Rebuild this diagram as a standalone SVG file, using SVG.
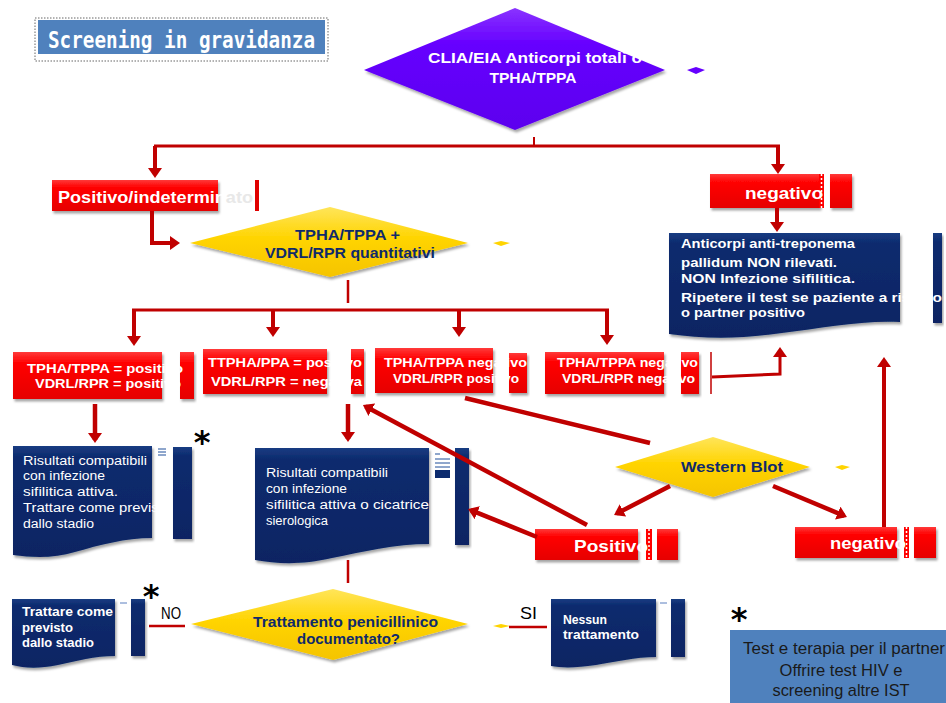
<svg xmlns="http://www.w3.org/2000/svg" width="946" height="703" viewBox="0 0 946 703">
<defs>
<linearGradient id="redG" x1="0" y1="0" x2="0" y2="1"><stop offset="0" stop-color="#FF3A3A"/><stop offset="0.25" stop-color="#FF0000"/><stop offset="1" stop-color="#E60000"/></linearGradient>
<linearGradient id="navyG" x1="0" y1="0" x2="0" y2="1"><stop offset="0" stop-color="#1A3C82"/><stop offset="0.1" stop-color="#0C2B6E"/><stop offset="1" stop-color="#082463"/></linearGradient>
<linearGradient id="yelG" x1="0" y1="0" x2="0" y2="1"><stop offset="0" stop-color="#FFE55A"/><stop offset="0.45" stop-color="#FFD400"/><stop offset="1" stop-color="#F5C400"/></linearGradient>
<linearGradient id="purG" x1="0" y1="0" x2="0" y2="1"><stop offset="0" stop-color="#8A33FF"/><stop offset="0.3" stop-color="#6600FF"/><stop offset="1" stop-color="#5C00EE"/></linearGradient>
<filter id="sh" x="-10%" y="-10%" width="125%" height="135%"><feDropShadow dx="1.5" dy="2.5" stdDeviation="1.2" flood-color="#000" flood-opacity="0.35"/></filter>
<marker id="ah" viewBox="0 0 10 14" refX="7" refY="7" markerWidth="10" markerHeight="14" markerUnits="userSpaceOnUse" orient="auto"><path d="M0,0 L10,7 L0,14 Z" fill="#C00000"/></marker>
</defs>
<style>
.red{fill:url(#redG);filter:url(#sh)}
.navy{fill:url(#navyG);filter:url(#sh)}
.yel{fill:url(#yelG);filter:url(#sh)}
.lbl{font-family:"Liberation Sans",Arial,sans-serif;font-weight:bold;fill:#fff}
.bx{font-family:"Liberation Sans",Arial,sans-serif;font-weight:bold;font-size:13px;fill:#fff}
.dq{font-family:"Liberation Sans",Arial,sans-serif;font-weight:bold;font-size:15px;fill:#0F2A6B}
.doc{font-family:"Liberation Sans",Arial,sans-serif;font-size:12.5px;fill:#fff}
.docb{font-family:"Liberation Sans",Arial,sans-serif;font-weight:bold;font-size:12.5px;fill:#fff}
.star{font-family:"DejaVu Sans",sans-serif;font-weight:bold;font-size:32px;fill:#000}
.yn{font-family:"Liberation Sans",Arial,sans-serif;font-size:17px;fill:#000}
.note{font-family:"Liberation Sans",Arial,sans-serif;font-size:17px;fill:#1A1A1A}
.dash{stroke:#fff;stroke-width:1.5;stroke-dasharray:2,2}
</style>
<rect width="946" height="703" fill="#fff"/>

<g id="title">
<rect x="35" y="18" width="293" height="43" fill="none" stroke="#666" stroke-width="1" stroke-dasharray="1.5,1.5"/>
<rect x="38" y="20" width="287" height="34" fill="#4F81BD"/>
<text x="48" y="48" font-family="DejaVu Sans Mono,monospace" font-weight="bold" font-size="23" fill="#fff" textLength="267" lengthAdjust="spacingAndGlyphs">Screening in gravidanza</text>
</g>

<g id="clia">
<polygon points="364,70 515,8 665,70 515,130" fill="url(#purG)" filter="url(#sh)"/>
<polygon points="687,70 696,67 705,70 696,74" fill="#6600FF"/>
<text class="lbl" x="428" y="63" font-size="14" textLength="214" lengthAdjust="spacingAndGlyphs">CLIA/EIA Anticorpi totali o</text>
<text class="lbl" x="533" y="83" font-size="14" text-anchor="middle" textLength="87" lengthAdjust="spacingAndGlyphs">TPHA/TPPA</text>
</g>

<g id="positivo-indeterminato">
<rect class="red" x="52" y="180" width="166" height="31"/>
<rect x="255" y="180" width="4" height="31" fill="#E00000"/>
<text class="lbl" x="58" y="203" font-size="17" textLength="195" lengthAdjust="spacingAndGlyphs">Positivo/indetermin<tspan fill="#E8E8E8">ato</tspan></text>
</g>

<g id="negativo-1">
<rect class="red" x="710" y="174" width="110" height="34"/>
<rect x="819" y="174" width="5" height="34" fill="#FF0000"/>
<line class="dash" x1="821.5" y1="174" x2="821.5" y2="208"/>
<rect class="red" x="830" y="174" width="22" height="34"/>
<text class="lbl" x="745" y="199" font-size="17" textLength="78" lengthAdjust="spacingAndGlyphs">negativo</text>
</g>

<g id="tpha-vdrl-quantitativi">
<polygon class="yel" points="190,243 330,207 468,243 330,277"/>
<polygon points="493,243 501,241 510,243 501,246" fill="#FFD400"/>
<text class="dq" x="295" y="240" textLength="105" lengthAdjust="spacingAndGlyphs">TPHA/TPPA +</text>
<text class="dq" x="265" y="258" textLength="170" lengthAdjust="spacingAndGlyphs">VDRL/RPR quantitativi</text>
</g>

<g id="negativo-risultato">
<path class="navy" d="M669,233 H900 V322 C862,320 822,328 782,333 C740,339 705,339 669,334 Z"/>
<rect class="navy" x="933" y="233" width="9" height="90"/>
<text class="docb" x="681" y="248" textLength="174" lengthAdjust="spacingAndGlyphs">Anticorpi anti-treponema</text>
<text class="docb" x="681" y="267" textLength="156" lengthAdjust="spacingAndGlyphs">pallidum NON rilevati.</text>
<text class="docb" x="681" y="283" textLength="174" lengthAdjust="spacingAndGlyphs">NON Infezione sifilitica.</text>
<text class="docb" x="681" y="302" textLength="261" lengthAdjust="spacingAndGlyphs">Ripetere il test se paziente a rischio</text>
<text class="docb" x="681" y="317" textLength="124" lengthAdjust="spacingAndGlyphs">o partner positivo</text>
</g>

<g id="box-pos-pos">
<rect class="red" x="13" y="352" width="149" height="47"/>
<rect class="red" x="180" y="352" width="14" height="47"/>
<text class="bx" x="27" y="373" textLength="156" lengthAdjust="spacingAndGlyphs">TPHA/TPPA = positivo</text>
<text class="bx" x="35" y="388" textLength="146" lengthAdjust="spacingAndGlyphs">VDRL/RPR = positivo</text>
</g>

<g id="box-pos-neg">
<rect class="red" x="203" y="349" width="124" height="45"/>
<rect class="red" x="351" y="349" width="13" height="45"/>
<text class="bx" x="208" y="367" textLength="154" lengthAdjust="spacingAndGlyphs">TTPHA/PPA = positivo</text>
<text class="bx" x="211" y="386" textLength="151" lengthAdjust="spacingAndGlyphs">VDRL/RPR = negativa</text>
</g>

<g id="box-neg-pos">
<rect class="red" x="375" y="348" width="118" height="45"/>
<rect class="red" x="509" y="353" width="18" height="40"/>
<text class="bx" x="384" y="367" textLength="143" lengthAdjust="spacingAndGlyphs">TPHA/TPPA negativo</text>
<text class="bx" x="393" y="383" textLength="126" lengthAdjust="spacingAndGlyphs">VDRL/RPR positivo</text>
</g>

<g id="box-neg-neg">
<rect class="red" x="545" y="352" width="119" height="42"/>
<rect class="red" x="681" y="352" width="18" height="42"/>
<text class="bx" x="557" y="367" textLength="141" lengthAdjust="spacingAndGlyphs">TPHA/TPPA negativo</text>
<text class="bx" x="562" y="383" textLength="133" lengthAdjust="spacingAndGlyphs">VDRL/RPR negativo</text>
</g>

<g id="doc-sifilide-attiva">
<path class="navy" d="M13,446 H152 V538 C125,538 100,545 75,552 C55,558 35,558 13,555 Z"/>
<rect class="navy" x="173" y="447" width="19" height="92"/>
<path d="M158,449 H166 M158,452 H166 M158,455 H166" stroke="#1F4E9A" stroke-width="1"/>
<text class="doc" x="23" y="465" textLength="124" lengthAdjust="spacingAndGlyphs">Risultati compatibili</text>
<text class="doc" x="23" y="480" textLength="82" lengthAdjust="spacingAndGlyphs">con infezione</text>
<text class="doc" x="23" y="496" textLength="95" lengthAdjust="spacingAndGlyphs">sifilitica attiva.</text>
<text class="doc" x="23" y="512" textLength="148" lengthAdjust="spacingAndGlyphs">Trattare come previsto</text>
<text class="doc" x="23" y="528" textLength="71" lengthAdjust="spacingAndGlyphs">dallo stadio</text>
</g>

<g id="doc-attiva-cicatrice">
<path class="navy" d="M255,448 H429 V544 C395,544 362,552 332,558 C302,565 278,564 255,560 Z"/>
<rect class="navy" x="455" y="448" width="14" height="97"/>
<path d="M435,454 H440 M435,459 H450 M435,463 H450 M435,467 H450" stroke="#1F4E9A" stroke-width="1"/>
<rect x="435" y="470" width="15" height="8" fill="#0C2B6E"/>
<text class="doc" x="266" y="477" textLength="122" lengthAdjust="spacingAndGlyphs">Risultati compatibili</text>
<text class="doc" x="266" y="493" textLength="81" lengthAdjust="spacingAndGlyphs">con infezione</text>
<text class="doc" x="266" y="509" textLength="163" lengthAdjust="spacingAndGlyphs">sifilitica attiva o cicatrice</text>
<text class="doc" x="266" y="525" textLength="62" lengthAdjust="spacingAndGlyphs">sierologica</text>
</g>

<g id="western-blot">
<polygon class="yel" points="615,467 713,437 810,467 713,497"/>
<polygon points="835,467 842,465 850,467 842,470" fill="#FFD400"/>
<text class="dq" x="681" y="472" textLength="102" lengthAdjust="spacingAndGlyphs">Western Blot</text>
</g>

<g id="wb-positivo">
<rect class="red" x="535" y="529" width="103" height="31"/>
<rect x="646" y="529" width="6" height="31" fill="#FF0000"/>
<line class="dash" x1="649" y1="529" x2="649" y2="560"/>
<rect class="red" x="657" y="529" width="21" height="31"/>
<text class="lbl" x="574" y="552" font-size="17" textLength="74" lengthAdjust="spacingAndGlyphs">Positivo</text>
</g>

<g id="wb-negativo">
<rect class="red" x="795" y="527" width="102" height="31"/>
<rect x="904" y="527" width="5" height="31" fill="#FF0000"/>
<line class="dash" x1="906.5" y1="527" x2="906.5" y2="558"/>
<rect class="red" x="914" y="527" width="22" height="31"/>
<text class="lbl" x="830" y="549" font-size="17" textLength="76" lengthAdjust="spacingAndGlyphs">negativo</text>
</g>

<g id="doc-trattare">
<path class="navy" d="M12,599 H115 V656 C95,656 76,661 58,665 C38,669 24,668 12,665 Z"/>
<rect class="navy" x="131" y="599" width="14" height="57"/>
<line x1="120" y1="603" x2="127" y2="603" stroke="#5A7FBF" stroke-width="1"/>
<text class="docb" x="22" y="616" textLength="91" lengthAdjust="spacingAndGlyphs">Trattare come</text>
<text class="docb" x="22" y="632" textLength="51" lengthAdjust="spacingAndGlyphs">previsto</text>
<text class="docb" x="22" y="647" textLength="72" lengthAdjust="spacingAndGlyphs">dallo stadio</text>
</g>

<g id="trattamento-documentato">
<polygon class="yel" points="191,624 333,589 468,624 333,660"/>
<text class="dq" x="253" y="627" textLength="185" lengthAdjust="spacingAndGlyphs">Trattamento penicillinico</text>
<text class="dq" x="297" y="644" textLength="103" lengthAdjust="spacingAndGlyphs">documentato?</text>
</g>

<g id="doc-nessun">
<path class="navy" d="M551,599 H656 V657 C636,657 614,662 596,665 C576,668 562,668 551,666 Z"/>
<rect class="navy" x="671" y="599" width="14" height="58"/>
<line x1="660" y1="603" x2="667" y2="603" stroke="#5A7FBF" stroke-width="1"/>
<text class="docb" x="563" y="624" textLength="44" lengthAdjust="spacingAndGlyphs">Nessun</text>
<text class="docb" x="563" y="639" textLength="76" lengthAdjust="spacingAndGlyphs">trattamento</text>
</g>

<g id="nota-partner">
<rect x="730" y="630" width="216" height="73" fill="#4F81BD"/>
<text class="note" x="844" y="654" text-anchor="middle" textLength="202" lengthAdjust="spacingAndGlyphs">Test e terapia per il partner</text>
<text class="note" x="841" y="676" text-anchor="middle" textLength="123" lengthAdjust="spacingAndGlyphs">Offrire test HIV e</text>
<text class="note" x="841" y="696" text-anchor="middle" textLength="137" lengthAdjust="spacingAndGlyphs">screening altre IST</text>
</g>

<g id="labels">
<text class="star" x="202" y="453" text-anchor="middle">*</text>
<text class="star" x="151" y="607" text-anchor="middle">*</text>
<text class="star" x="739" y="630" text-anchor="middle">*</text>
<text class="yn" x="161" y="619" textLength="20" lengthAdjust="spacingAndGlyphs">NO</text>
<text class="yn" x="520" y="619" textLength="17" lengthAdjust="spacingAndGlyphs">SI</text>
<polygon points="493,626 501,624 510,626 501,628" fill="#FFD400"/>
</g>

<g id="connectors" fill="none" stroke="#C00000">
<line x1="534" y1="137" x2="534" y2="146" stroke-width="2"/>
<line x1="154" y1="146" x2="780" y2="146" stroke-width="3"/>
<line x1="155" y1="146" x2="155" y2="175" stroke-width="4" marker-end="url(#ah)"/>
<line x1="778" y1="146" x2="778" y2="171" stroke-width="4" marker-end="url(#ah)"/>
<line x1="777" y1="208" x2="777" y2="229" stroke-width="4" marker-end="url(#ah)"/>
<polyline points="152,211 152,243 177,243" stroke-width="4" marker-end="url(#ah)"/>
<line x1="348" y1="280" x2="348" y2="303" stroke-width="2.5"/>
<line x1="132" y1="310" x2="609" y2="310" stroke-width="3"/>
<line x1="134" y1="310" x2="134" y2="343" stroke-width="4" marker-end="url(#ah)"/>
<line x1="273" y1="310" x2="273" y2="334" stroke-width="4" marker-end="url(#ah)"/>
<line x1="459" y1="310" x2="459" y2="334" stroke-width="4" marker-end="url(#ah)"/>
<line x1="607" y1="310" x2="607" y2="342" stroke-width="4" marker-end="url(#ah)"/>
<line x1="711" y1="352" x2="711" y2="394" stroke-width="1.5"/>
<polyline points="712,377 780,374 780,350" stroke-width="3" marker-end="url(#ah)"/>
<line x1="95" y1="404" x2="95" y2="440" stroke-width="4.5" marker-end="url(#ah)"/>
<line x1="348" y1="404" x2="348" y2="439" stroke-width="4.5" marker-end="url(#ah)"/>
<line x1="465" y1="398" x2="650" y2="443" stroke-width="4.5"/>
<line x1="587" y1="525" x2="365.6" y2="406.4" stroke-width="4.5" marker-end="url(#ah)"/>
<line x1="537" y1="537" x2="470.8" y2="510.1" stroke-width="4.5" marker-end="url(#ah)"/>
<line x1="670" y1="486" x2="616.7" y2="513.6" stroke-width="4.5" marker-end="url(#ah)"/>
<line x1="773" y1="486" x2="844.2" y2="515.8" stroke-width="4.5" marker-end="url(#ah)"/>
<line x1="884" y1="527" x2="884" y2="360" stroke-width="4" marker-end="url(#ah)"/>
<line x1="348" y1="560" x2="348" y2="583" stroke-width="2.5"/>
<line x1="149" y1="626" x2="185" y2="626" stroke-width="2.5"/>
<line x1="509" y1="627" x2="547" y2="627" stroke-width="2.5"/>
</g>
</svg>
